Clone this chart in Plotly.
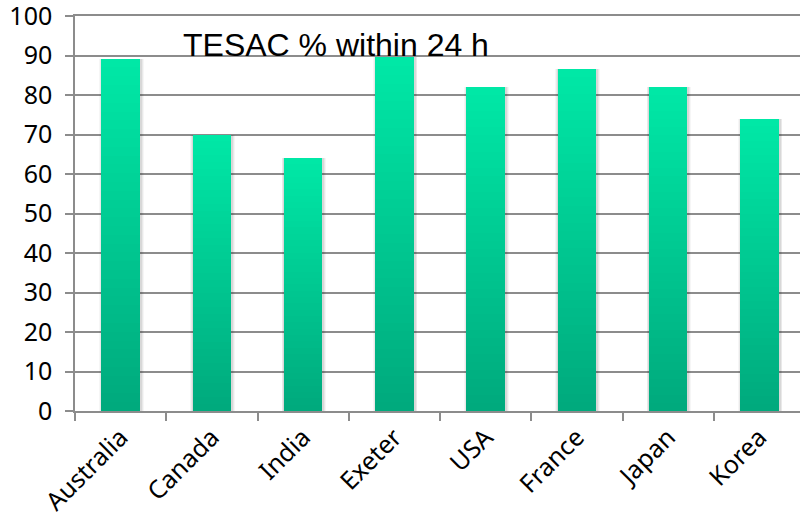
import plotly.graph_objects as go

# TESAC share of observations received within 24 h, by source
countries = ["Australia", "Canada", "India", "Exeter", "USA", "France", "Japan", "Korea"]
pct_24h = [89.2, 70.0, 64.1, 89.6, 82.1, 86.7, 82.1, 74.0]
y_ticks = list(range(0, 101, 10))

# vertical gradient for the bars: bright at the top, darker at the base
TOP_RGB = (0, 232, 166)
BOT_RGB = (0, 168, 124)
N_STEPS = 40

BAR_W = 0.42
FONT = "Noto Sans"
TICK_SIZE = 25
AXIS_GREY = "#8c8c8c"

fig = go.Figure()

# soft drop shadow behind each bar
for spread, alpha in [(0.07, 0.035), (0.05, 0.05), (0.03, 0.07)]:
    fig.add_trace(go.Bar(
        x=countries, y=pct_24h,
        width=BAR_W + spread,
        offset=-(BAR_W + spread) / 2 + 0.008,
        marker=dict(color=f"rgba(0,0,0,{alpha})", line=dict(width=0)),
        hoverinfo="skip", showlegend=False,
    ))

# gradient: tallest (brightest) first, each shorter/darker bar laid over it
for k in range(N_STEPS):
    frac = (N_STEPS - k) / N_STEPS
    t = 1 - frac
    r = round(TOP_RGB[0] + (BOT_RGB[0] - TOP_RGB[0]) * t)
    g = round(TOP_RGB[1] + (BOT_RGB[1] - TOP_RGB[1]) * t)
    b = round(TOP_RGB[2] + (BOT_RGB[2] - TOP_RGB[2]) * t)
    fig.add_trace(go.Bar(
        x=countries, y=[v * frac for v in pct_24h],
        width=BAR_W,
        marker=dict(color=f"rgb({r},{g},{b})", line=dict(width=0)),
        hoverinfo="skip" if k else "x+y", showlegend=False,
    ))

fig.add_annotation(
    text="TESAC % within 24 h",
    xref="paper", yref="paper",
    x=(181 - 75) / 725, y=1.0,
    xanchor="left", yanchor="top",
    yshift=-9,
    showarrow=False,
    font=dict(family="Liberation Sans, Arial", size=32, color="#000000"),
)

fig.update_layout(
    width=800, height=518,
    margin=dict(l=75, r=0, t=16, b=107, pad=0),
    paper_bgcolor="white", plot_bgcolor="white",
    barmode="overlay",
    bargap=0,
    font=dict(family=FONT, size=TICK_SIZE, color="#000000"),
    xaxis=dict(
        type="category",
        range=[-0.5, 7.445],
        automargin=False,
        tickangle=-45,
        tickson="boundaries",
        ticks="outside", ticklen=8, tickwidth=1.5, tickcolor=AXIS_GREY,
        # the mirrored line along the top doubles as the 100 gridline
        showline=True, mirror=True, linecolor=AXIS_GREY, linewidth=1.5,
        showgrid=False, zeroline=False,
        ticklabeloverflow="allow",
        tickfont=dict(family=FONT, size=TICK_SIZE, color="#000000"),
    ),
    yaxis=dict(
        range=[0, 100],
        automargin=False,
        tickvals=y_ticks,
        ticks="outside", ticklen=8, tickwidth=1.5, tickcolor=AXIS_GREY,
        showline=True, linecolor=AXIS_GREY, linewidth=1.5,
        showgrid=True, gridcolor=AXIS_GREY, gridwidth=1.5,
        zeroline=False,
        ticklabelstandoff=8,
        ticklabeloverflow="allow",
        tickfont=dict(family=FONT, size=TICK_SIZE, color="#000000"),
    ),
)

fig.write_html("out.html")
